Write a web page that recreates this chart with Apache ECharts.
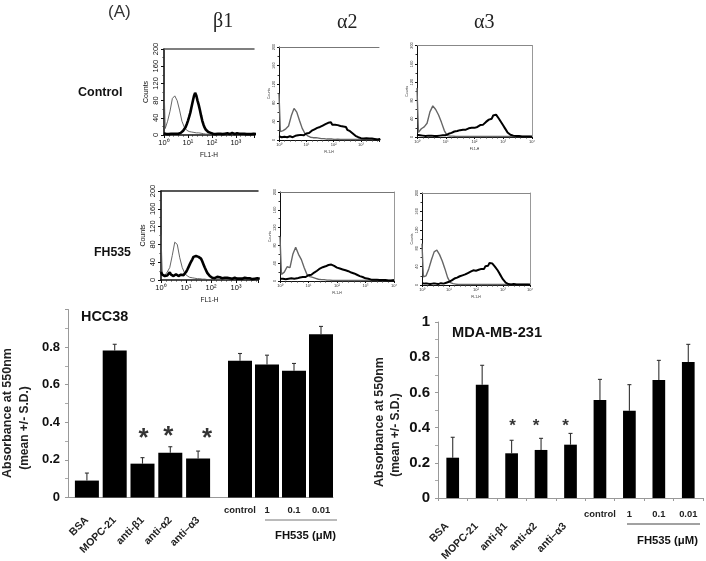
<!DOCTYPE html>
<html><head><meta charset="utf-8">
<style>html,body{margin:0;padding:0;background:#fff}#c{width:706px;height:561px}</style>
<script src="https://cdn.jsdelivr.net/npm/echarts@6/dist/echarts.min.js"></script>
</head><body><div id="c"></div>
<script>
// ---- bar chart data ----
const hccLeftNames = ['BSA','MOPC-21','anti-β1','anti-α2','anti–α3'];
const hccLeftMeans = [0.09,0.782,0.18,0.238,0.208];
const hccLeftUpper = [0.13,0.815,0.212,0.27,0.247];
const hccRightNames = ['control','1','0.1','0.01'];
const hccRightMeans = [0.727,0.708,0.674,0.869];
const hccRightUpper = [0.766,0.757,0.713,0.91];
const hccStars = [[2,0.31],[3,0.325],[4,0.31]];
const mdaNames = ['BSA','MOPC-21','anti-β1','anti-α2','anti–α3','control','1','0.1','0.01'];
const mdaMeans = [0.229,0.644,0.254,0.273,0.303,0.557,0.496,0.67,0.773];
const mdaUpper = [0.345,0.754,0.328,0.339,0.367,0.674,0.644,0.782,0.873];
const mdaStars = [[2,0.405],[3,0.405],[4,0.405]];
// ---- flow-cytometry histograms (counts) ----
const thinB1Ctrl = [118,15,32,55,85,91,80,58,32,18,11,8,7,6,5,5,4,3,2,2,1,1,2,1,1,1,1,1,1,1,1,1,1,1,1,1,1,1,1,1,1];
const thickB1Ctrl = [4,3,2,3,2,2,3,2,3,3,3,4,3,4,5,7,10,13,18,25,33,42,52,65,78,90,98,92,80,70,58,45,33,24,17,12,9,7,5,5,4,3,3,2,4,3,2,3,4,2,3,3,2,4,3,2,3,5,3,2,3,4,2,3,2,3,2,3,4,2,3,2,3,2,2,3,2,2];
const thinA2Ctrl = [100,18,20,24,30,52,68,60,42,25,14,9,6,5,5,4,3,3,2,2,2,1,2,1,1,1,1,1,1,1,1,1,1,1,1,1,1,1,1,1,1];
const thickA2Ctrl = [8,5,6,5,7,6,6,7,8,7,6,8,9,8,10,9,11,12,10,13,14,16,15,18,20,19,23,22,26,25,28,27,31,30,34,32,37,34,38,33,35,33,36,32,34,30,32,29,27,28,22,24,19,17,14,11,9,8,6,5,4,5,3,3,4,2,3,2,3,2,2,2,1,2,2,1,1,1];
const thinA3Ctrl = [107,10,18,22,30,55,68,60,48,32,14,3,2,2,1,1,1,1,1,1,1,1,1,1,1,1,1,1,1,1,1,1,1,1,1,1,1,1,1,1,1];
const thickA3Ctrl = [5,3,4,3,3,4,2,3,3,2,3,3,2,3,2,3,3,3,4,5,4,5,7,8,9,10,12,11,13,14,15,14,16,17,16,18,19,18,20,21,20,23,22,25,26,28,27,30,33,32,38,42,40,47,44,49,45,40,36,30,25,20,15,10,7,5,3,3,2,2,1,2,1,1,2,1,1,1,1,1,1];
const thinB1Fh = [102,12,10,18,28,55,85,80,50,28,15,9,6,5,4,3,3,2,2,1,1,2,1,1,1,1,1,1,1,1,1,1,1,1,1,1,1,1,1,1,1];
const thickB1Fh = [18,12,10,9,11,10,14,17,12,10,9,10,13,11,9,10,12,14,11,10,18,23,29,35,41,46,52,56,54,56,52,55,48,42,35,28,22,16,12,9,7,5,6,4,5,7,5,6,5,4,6,5,4,5,6,4,5,3,4,5,4,3,5,3,4,3,4,5,3,4,3,4,3,2,4,3,3,4,2,3];
const thinA2Fh = [100,15,20,32,30,60,76,60,48,30,14,10,8,6,4,3,3,2,2,1,1,1,1,1,1,1,1,1,1,1,1,1,1,1,1,1,1,1,1,1,1];
const thickA2Fh = [5,4,5,3,4,4,5,4,6,5,5,7,6,7,8,8,9,10,9,12,13,15,14,17,19,22,23,26,28,27,31,30,33,32,36,34,37,33,34,31,30,32,28,29,26,27,24,25,22,23,19,20,17,16,14,12,11,9,9,7,6,5,5,4,3,3,3,2,3,2,2,3,2,1,2,2,1,2,1,1,2];
const thinA3Fh = [90,18,20,35,55,72,76,66,52,35,16,5,3,2,1,1,1,1,1,1,1,1,1,1,1,1,1,1,1,1,1,1,1,1,1,1,1,1,1,1,1];
const thickA3Fh = [4,3,3,4,3,3,2,3,3,2,3,3,2,3,4,3,3,4,5,6,7,8,10,12,14,13,16,15,19,20,21,24,23,27,26,25,29,27,32,30,31,28,33,30,35,38,35,41,44,42,48,45,47,44,40,36,32,27,22,17,12,8,5,3,2,2,1,1,2,1,1,1,1,1,1,1,1,1,1,1,1];
const histTicks = [0,1,2,3,4];
const sup = {'0':'⁰','1':'¹','2':'²','3':'³','4':'⁴'};

// ---- histogram panel layout ----
const panels = [
 {thin:thinB1Ctrl,thick:thickB1Ctrl,l:164,r:254,t:49,b:135,xMax:3.76,big:true,topColor:'#555',topW:1.5,rightLine:false},
 {thin:thinA2Ctrl,thick:thickA2Ctrl,l:279,r:379,t:47,b:140,xMax:3.66,big:false,topColor:'#777',topW:1,rightLine:false},
 {thin:thinA3Ctrl,thick:thickA3Ctrl,l:417,r:532,t:45.5,b:137,xMax:4,big:false,topColor:'#888',topW:1,rightLine:true},
 {thin:thinB1Fh,thick:thickB1Fh,l:161,r:258,t:191,b:280,xMax:3.88,big:true,topColor:'#222',topW:1.5,rightLine:false},
 {thin:thinA2Fh,thick:thickA2Fh,l:280,r:394,t:192,b:281,xMax:4,big:false,topColor:'#777',topW:1,rightLine:true},
 {thin:thinA3Fh,thick:thickA3Fh,l:422,r:530,t:193,b:285,xMax:4,big:false,topColor:'#888',topW:1.2,rightLine:true}
];
const W=706,H=561;
const grid=[],xAxis=[],yAxis=[],series=[];
const fixedBounds={outerBoundsMode:'none',containLabel:false};

panels.forEach(p=>{
  const gi=grid.length;
  grid.push({...fixedBounds,left:p.l,top:p.t,width:p.r-p.l,height:p.b-p.t});
  const lc=p.big?'#111':'#333';
  const xi=xAxis.length, yi=yAxis.length;
  xAxis.push({gridIndex:gi,type:'value',min:0,max:p.xMax,interval:1,splitLine:{show:false},
    axisLine:{onZero:false,lineStyle:{color:'#111',width:p.big?1.6:1}},
    axisTick:{length:p.big?3:2,lineStyle:{color:'#111'}},
    minorTick:{show:true,splitNumber:5,length:1.5,lineStyle:{color:'#333'}},
    axisLabel:{show:true,showMaxLabel:p.xMax===4,margin:p.big?4:3,fontSize:p.big?7.5:4,color:lc,fontFamily:'Liberation Sans',
      formatter:v=>histTicks.includes(v)?'10'+sup[v]:''},
    name:'FL1-H',nameLocation:'middle',nameGap:p.big?17:10,
    nameTextStyle:{fontSize:p.big?6.5:3.5,color:lc,fontFamily:'Liberation Sans'}});
  xAxis.push({gridIndex:gi,type:'value',position:'top',min:0,max:p.xMax,axisTick:{show:false},axisLabel:{show:false},splitLine:{show:false},
    axisLine:{show:true,onZero:false,lineStyle:{color:p.topColor,width:p.topW}}});
  yAxis.push({gridIndex:gi,type:'value',min:0,max:200,interval:40,splitLine:{show:false},
    axisLine:{show:true,onZero:false,lineStyle:{color:'#111',width:p.big?1.6:1}},
    axisTick:{show:true,length:p.big?3:2,lineStyle:{color:'#111'}},
    minorTick:{show:true,splitNumber:2,length:1.5,lineStyle:{color:'#333'}},
    axisLabel:{rotate:90,margin:p.big?4:3,fontSize:p.big?7.5:4,color:lc,fontFamily:'Liberation Sans'},
    name:'Counts',nameLocation:'middle',nameRotate:90,nameGap:p.big?14:8,
    nameTextStyle:{fontSize:p.big?7:3.5,color:lc,fontFamily:'Liberation Sans'}});
  if(p.rightLine) yAxis.push({gridIndex:gi,type:'value',position:'right',min:0,max:200,splitLine:{show:false},axisTick:{show:false},axisLabel:{show:false},
    axisLine:{show:true,onZero:false,lineStyle:{color:'#999',width:1}}});
  series.push({type:'line',xAxisIndex:xi,yAxisIndex:yi,showSymbol:false,animation:false,clip:true,z:2,
    lineStyle:{color:p.big?'#555':'#666',width:p.big?0.9:1.4},
    data:p.thin.map((v,i)=>[i===0?0:(i-0.5)*0.1,v])});
  series.push({type:'line',xAxisIndex:xi,yAxisIndex:yi,showSymbol:false,animation:false,clip:true,z:3,
    lineStyle:{color:'#000',width:p.big?2.6:2},
    data:p.thick.map((v,i)=>[i*0.05,v])});
});

function errSeries(xi,yi,upper,means,capW){
  return {type:'custom',xAxisIndex:xi,yAxisIndex:yi,animation:false,silent:true,z:1,clip:false,
    data:upper.map((u,i)=>[i,means[i],u]),
    encode:{x:0,y:[1,2]},
    renderItem(params,api){
      const a=api.coord([api.value(0),api.value(1)]),b=api.coord([api.value(0),api.value(2)]);
      const st={stroke:'#333',lineWidth:1.1,fill:null};
      return {type:'group',children:[
        {type:'line',shape:{x1:a[0],y1:a[1],x2:a[0],y2:b[1]},style:st},
        {type:'line',shape:{x1:a[0]-capW,y1:b[1],x2:a[0]+capW,y2:b[1]},style:st}]};
    }};
}
function barSeries(xi,yi,vals,w){
  return {type:'bar',xAxisIndex:xi,yAxisIndex:yi,data:vals,barWidth:w,animation:false,z:2,
    itemStyle:{color:'#000'}};
}
function starSeries(xi,yi,data,size,weight,offsets){
  return {type:'scatter',xAxisIndex:xi,yAxisIndex:yi,symbolSize:1,animation:false,silent:true,z:5,
    itemStyle:{color:'rgba(0,0,0,0)'},
    data:data.map((d,i)=>({value:d,label:{offset:offsets[i]}})),
    label:{show:true,position:'inside',formatter:'*',fontSize:size,fontWeight:weight,color:'#000',fontFamily:'Liberation Sans'}};
}
const hiddenY=(gi)=>({gridIndex:gi,type:'value',min:0,max:1,show:false,splitLine:{show:false}});
function catX(gi,names,labelCfg,extra){
  return Object.assign({gridIndex:gi,type:'category',data:names,axisLine:{show:false},axisTick:{show:false},splitLine:{show:false},
    axisLabel:Object.assign({interval:0,fontFamily:'Liberation Sans',fontWeight:'bold',color:'#222'},labelCfg)},extra||{});
}

// ---- HCC38 panel ----
(function(){
  const frame=grid.length;
  grid.push({...fixedBounds,left:68,top:309.5,width:265,bottom:H-497.5});
  xAxis.push({gridIndex:frame,type:'value',min:0,max:1,axisLabel:{show:false},axisTick:{show:false},splitLine:{show:false},axisLine:{lineStyle:{color:'#999',width:1}}});
  yAxis.push({gridIndex:frame,type:'value',min:0,max:1,interval:0.2,splitLine:{show:false},
    axisLine:{show:true,lineStyle:{color:'#999'}},axisTick:{show:true,length:3,lineStyle:{color:'#999'}},
    minorTick:{show:true,splitNumber:2,length:3,lineStyle:{color:'#aaa'}},
    axisLabel:{showMaxLabel:false,fontSize:13,fontWeight:'bold',color:'#111',margin:8,fontFamily:'Liberation Sans',formatter:v=>String(+v.toFixed(1))}});
  const lg=grid.length; grid.push({...fixedBounds,left:73,top:309.5,width:139,bottom:H-497.5});
  let xi=xAxis.length, yi=yAxis.length;
  xAxis.push(catX(lg,hccLeftNames,{rotate:45,fontSize:10.5,margin:21}));
  yAxis.push(hiddenY(lg));
  series.push(errSeries(xi,yi,hccLeftUpper,hccLeftMeans,2));
  series.push(barSeries(xi,yi,hccLeftMeans,24));
  series.push(starSeries(xi,yi,hccStars,26,'bold',[[1,0],[-2,0],[9,0]]));
  const rg=grid.length; grid.push({...fixedBounds,left:226.5,top:309.5,width:108,bottom:H-497.5});
  xi=xAxis.length; yi=yAxis.length;
  xAxis.push(catX(rg,hccRightNames,{fontSize:9.4,margin:8}));
  yAxis.push(hiddenY(rg));
  series.push(errSeries(xi,yi,hccRightUpper,hccRightMeans,2));
  series.push(barSeries(xi,yi,hccRightMeans,24));
})();

// ---- MDA-MB-231 panel ----
(function(){
  const g=grid.length;
  grid.push({...fixedBounds,left:438,top:322,width:265,bottom:H-498});
  const xi=xAxis.length, yi=yAxis.length;
  xAxis.push(catX(g,mdaNames.map((n,i)=>i<5?n:''),{rotate:45,fontSize:10.5,margin:21,padding:[0,8,0,0]},
    {axisLine:{show:true,lineStyle:{color:'#999'}},axisTick:{show:true,length:3,alignWithLabel:false,lineStyle:{color:'#999'}}}));
  xAxis.push(catX(g,mdaNames.map((n,i)=>i>=5?n:''),{fontSize:9.4,margin:12},{position:'bottom'}));
  yAxis.push({gridIndex:g,type:'value',min:0,max:1,interval:0.2,splitLine:{show:false},
    axisLine:{show:true,lineStyle:{color:'#999'}},axisTick:{show:true,length:3,lineStyle:{color:'#999'}},
    minorTick:{show:true,splitNumber:2,length:3,lineStyle:{color:'#aaa'}},
    axisLabel:{fontSize:15,fontWeight:'bold',color:'#111',margin:8,fontFamily:'Liberation Sans',formatter:v=>String(+v.toFixed(1))}});
  series.push(errSeries(xi,yi,mdaUpper,mdaMeans,2));
  series.push(barSeries(xi,yi,mdaMeans,12.7));
  series.push(starSeries(xi,yi,mdaStars,17,'bold',[[1,0],[-5,0],[-5,0]]));
})();

// ---- free text ----
const sans='Liberation Sans', serif='Liberation Serif';
function txt(text,x,y,font,opt){
  return Object.assign({type:'text',x,y,silent:true,style:{text,font,fill:(opt&&opt.fill)||'#111',verticalAlign:'middle',align:(opt&&opt.align)||'left'}},opt&&opt.rot?{rotation:opt.rot}:{});
}
const labels=[
 txt('(A)',108,12,`17px "${sans}"`,{fill:'#333'}),
 txt('β1',213,22,`20px "${serif}"`,{fill:'#222'}),
 txt('α2',337,23,`20px "${serif}"`,{fill:'#222'}),
 txt('α3',474,23,`20px "${serif}"`,{fill:'#222'}),
 txt('Control',78,93,`bold 12.5px "${sans}"`),
 txt('FH535',94,253,`bold 12.3px "${sans}"`),
 txt('HCC38',81,317,`bold 14.4px "${sans}"`),
 txt('MDA-MB-231',452,333,`bold 14.6px "${sans}"`),
 txt('Absorbance at 550nm',8,413,`bold 12.5px "${sans}"`,{align:'center',rot:Math.PI/2,fill:'#222'}),
 txt('(mean +/- S.D.)',25,428,`bold 12px "${sans}"`,{align:'center',rot:Math.PI/2,fill:'#222'}),
 txt('Absorbance at 550nm',380,422,`bold 12.5px "${sans}"`,{align:'center',rot:Math.PI/2,fill:'#222'}),
 txt('(mean +/- S.D.)',396,435,`bold 12px "${sans}"`,{align:'center',rot:Math.PI/2,fill:'#222'}),
 txt('FH535 (μM)',275,536,`bold 11.3px "${sans}"`),
 txt('FH535 (μM)',637,541,`bold 11.3px "${sans}"`),
 {type:'line',shape:{x1:265,y1:520,x2:337,y2:520},style:{stroke:'#777',lineWidth:1}},
 {type:'line',shape:{x1:627,y1:524,x2:700,y2:524},style:{stroke:'#444',lineWidth:1}}
];

const chart=echarts.init(document.getElementById('c'),null,{renderer:'canvas'});
chart.setOption({animation:false,backgroundColor:'#fff',grid,xAxis,yAxis,series,graphic:labels});
</script></body></html>
